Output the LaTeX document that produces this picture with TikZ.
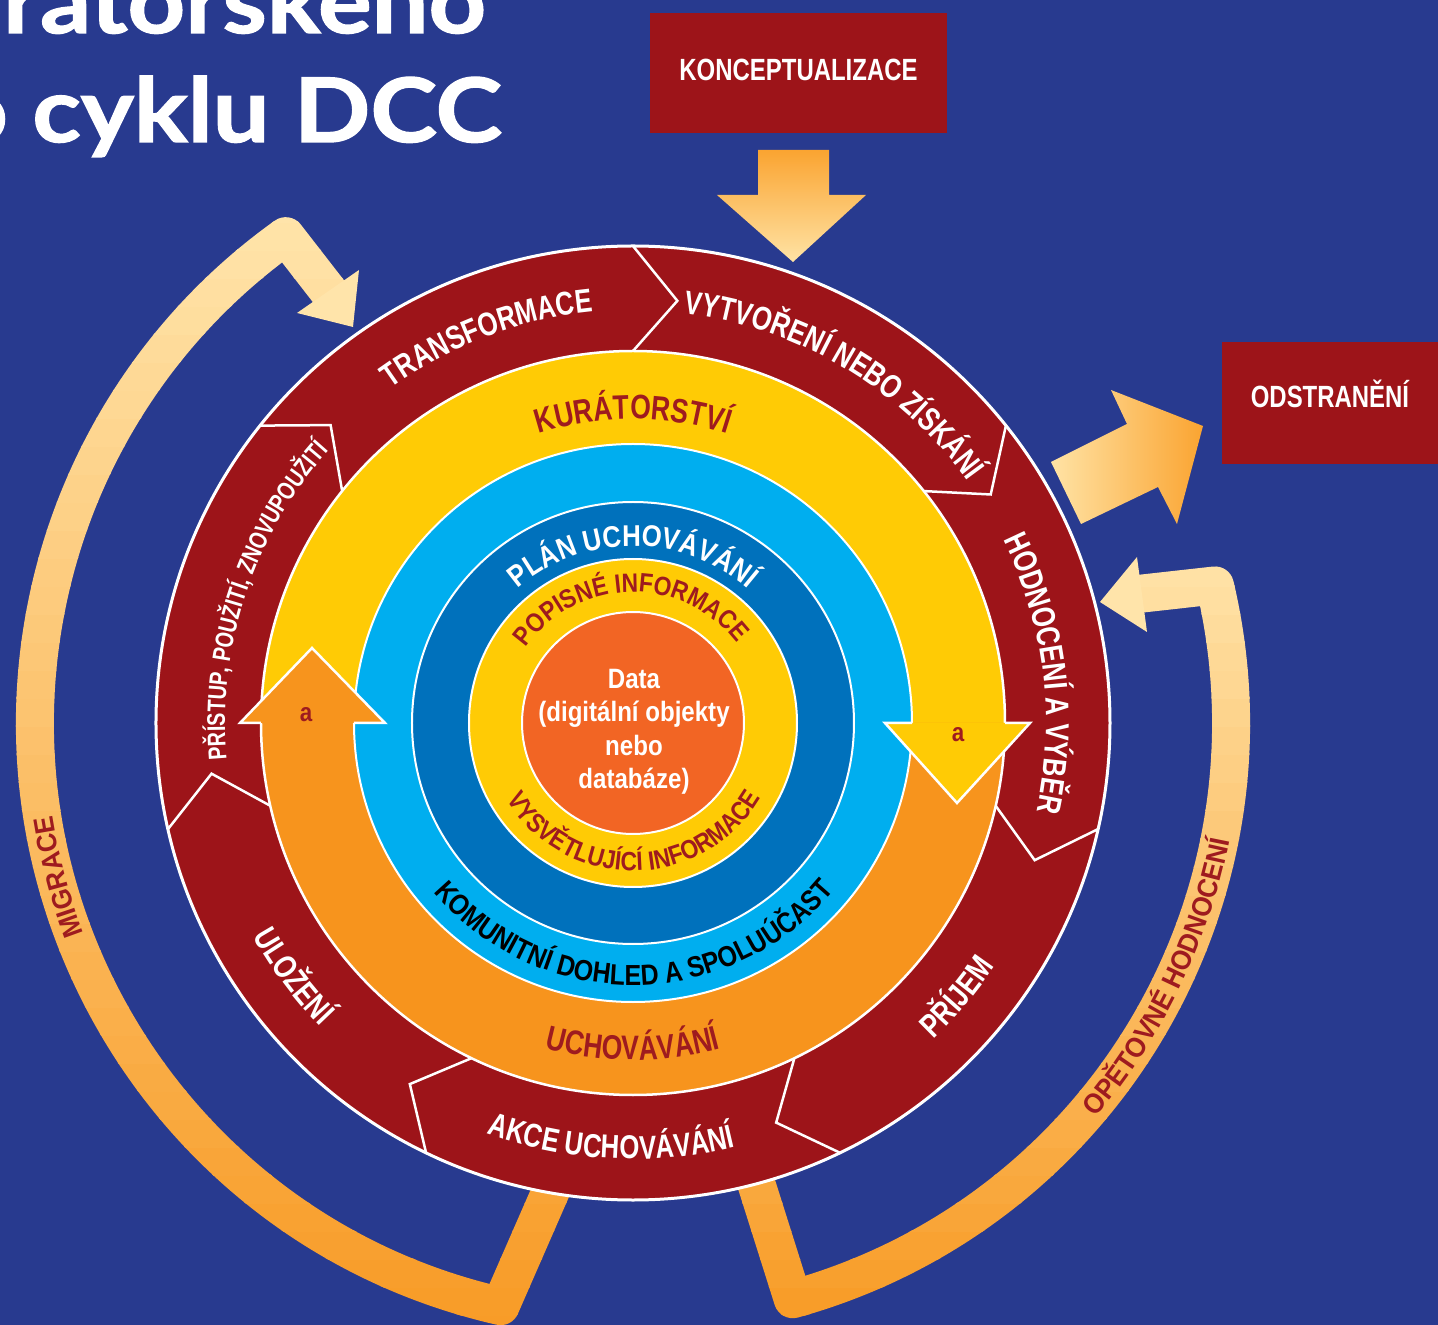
\documentclass[tikz,border=0pt]{standalone}
\usepackage{fontspec}
\usepackage{tikz}
\usetikzlibrary{decorations.text}
\newfontfamily\condfont{Liberation Sans}[FakeStretch=0.78]
\newfontfamily\semifont{Liberation Sans}[FakeStretch=0.86]
\newfontfamily\loopfont{Liberation Sans}[FakeStretch=0.93]
\newfontfamily\titlefont{Lato}[FakeStretch=1.13, FakeBold=1.5]
\definecolor{bgblue}{HTML}{283A8F}
\definecolor{ringred}{HTML}{9D1419}
\definecolor{curyellow}{HTML}{FFCB05}
\definecolor{presorange}{HTML}{F7941D}
\definecolor{lightblue}{HTML}{00AEEF}
\definecolor{darkblue}{HTML}{0071BC}
\definecolor{coreorange}{HTML}{F26524}
\definecolor{lblred}{HTML}{9E1B1F}
\definecolor{looplight}{HTML}{FFE4AA}
\definecolor{loopdark}{HTML}{F89C28}
\definecolor{arrowlight}{HTML}{FFE3A5}
\definecolor{arrowdark}{HTML}{FAA431}
\newcommand{\titlefnt}{\titlefont\bfseries\fontsize{89pt}{89pt}\selectfont}
\newcommand{\boxfnt}{\condfont\bfseries\fontsize{30.7pt}{30.7pt}\selectfont}
\newcommand{\ringfnt}{\condfont\bfseries\fontsize{33pt}{33pt}\selectfont}
\newcommand{\accfnt}{\condfont\bfseries\fontsize{25.5pt}{25.5pt}\selectfont}
\newcommand{\bandfnt}{\condfont\bfseries\fontsize{34pt}{34pt}\selectfont}
\newcommand{\commfnt}{\semifont\bfseries\fontsize{29pt}{29pt}\selectfont}
\newcommand{\planfnt}{\semifont\bfseries\fontsize{30pt}{30pt}\selectfont}
\newcommand{\infofnt}{\semifont\bfseries\fontsize{26.5pt}{26.5pt}\selectfont}
\newcommand{\loopfnt}{\loopfont\bfseries\fontsize{28pt}{28pt}\selectfont}
\newcommand{\datafnt}{\semifont\bfseries\fontsize{28pt}{33.5pt}\selectfont}
\newcommand{\afnt}{\semifont\bfseries\fontsize{26pt}{26pt}\selectfont}
\begin{document}
\begin{tikzpicture}[x=1pt, y=1pt,
  box/.style={fill=ringred, text=white, font=\boxfnt, inner sep=0pt, text height=22pt},
  ringedge/.style={white, line width=2.5pt, line join=miter},
  chev/.style={white, line width=2.5pt, line join=miter},
  loopband/.style={line width=38pt, line join=round},
  arclbl/.style 2 args={decorate, decoration={text along path, text align=center, text color=#1, text={#2}}}]

% canvas
\useasboundingbox (-633,-602) rectangle (805,723);
\clip (-633,-602) rectangle (805,723);
\fill[bgblue] (-633,-602) rectangle (805,723);

% title (cut off by the page edge)
\node[font=\titlefnt, text=white, anchor=base west, inner sep=0pt] (title1) at (-630,690) {ratorského};
\node[font=\titlefnt, text=white, anchor=base west, inner sep=0pt] (title2) at (-683,581) {o cyklu DCC};

% outer boxes and arrows
\node[box, minimum width=297, minimum height=120, text depth=6pt] (konc) at (165.5,650) {KONCEPTUALIZACE};
\node[box, minimum width=216, minimum height=122, text depth=12pt] (odst) at (697,320) {ODSTRANĚNÍ};
\shade[top color=arrowdark, bottom color=arrowlight] (125,573) -- (196,573) -- (196,528) -- (233,528) -- (160,461) -- (84,528) -- (125,528) -- cycle;
\shade[left color=arrowlight, right color=arrowdark] (418,261) -- (494,299) -- (478,333) -- (570,297) -- (544,199) -- (525,236) -- (448,199) -- cycle;

% migrace loop
\foreach \i in {0,...,43} {
  \pgfmathsetmacro\ya{-620+\i*28}
  \pgfmathsetmacro\yb{\ya+29}
  \pgfmathtruncatemacro\pc{max(0,min(100,(\ya+604)/10.9))}
  \begin{scope}
    \clip (-640,\ya) rectangle (0,\yb);
    \draw[loopband, draw=looplight!\pc!loopdark] (-73,-447) -- (257.2:598) arc[start angle=257.2, end angle=125.5, radius=598] -- (-302,428.5);
  \end{scope}
}
\fill[looplight] (-274,453) -- (-280,396) -- (-336,410) -- cycle;

% opetovne hodnoceni loop
\foreach \i in {0,...,29} {
  \pgfmathsetmacro\ya{-620+\i*28}
  \pgfmathsetmacro\yb{\ya+29}
  \pgfmathtruncatemacro\pc{max(0,min(100,(\ya+604)/7.65))}
  \begin{scope}
    \clip (0,\ya) rectangle (700,\yb);
    \draw[loopband, draw=looplight!\pc!loopdark] (119,-447) -- (-74.5:598) arc[start angle=-74.5, end angle=13.3, radius=598] -- (505,129);
  \end{scope}
}
\fill[looplight] (504,166) -- (467,121) -- (514,91) -- cycle;

% rings
\fill[ringred] (0,0) circle (477);
\fill[curyellow] (372,0) arc[start angle=0, end angle=180, radius=372] -- cycle;
\fill[presorange] (-372,0) arc[start angle=180, end angle=360, radius=372] -- cycle;
\draw[ringedge, line width=3pt] (0,0) circle (477);
\draw[ringedge] (0,0) circle (372);
\foreach \k in {0,...,6} {
  \pgfmathsetmacro\t{90-\k*360/7}
  \draw[chev] (\t:477) -- (\t-6:424.5) -- (\t:372);
}
\filldraw[fill=lightblue, draw=white, line width=2pt] (0,0) circle (279);
\filldraw[fill=darkblue, draw=white, line width=2pt] (0,0) circle (221);
\filldraw[fill=curyellow, draw=white, line width=2pt] (0,0) circle (164);
\filldraw[fill=coreorange, draw=white, line width=2pt] (0,0) circle (111);

% arrow heads of the two half rings
\fill[presorange] (-393,0) -- (-321,75) -- (-248,0) -- cycle;
\draw[ringedge] (-372,0) -- (-393,0) -- (-321,75) -- (-248,0) -- (-279,0);
\fill[curyellow] (252,0) -- (324,-80) -- (397,0) -- cycle;
\draw[ringedge] (279,0) -- (252,0) -- (324,-80) -- (397,0) -- (372,0);
\node[font=\afnt, text=lblred] (aleft) at (-327,8) {a};
\node[font=\afnt, text=lblred] (aright) at (325,-12) {a};

\node[font=\datafnt, text=white, align=center] (data) at (1,-9) {Data\\(digitální objekty\\nebo\\databáze)};

% ring labels
\path[arclbl={white}{|\ringfnt|TRANSFORMACE}] (150.7:413) arc[start angle=150.7, end angle=70.7, radius=413];
\path[arclbl={white}{|\ringfnt|VYTVOŘENÍ NEBO ZÍSKÁNÍ}] (109.4:413) arc[start angle=109.4, end angle=9.4, radius=413];
\path[arclbl={white}{|\ringfnt|HODNOCENÍ A VÝBĚR}] (57:413) arc[start angle=57, end angle=-43, radius=413];
\path[arclbl={white}{|\ringfnt|PŘÍJEM}] (-80:436) arc[start angle=-80, end angle=-0.4, radius=436];
\path[arclbl={white}{|\ringfnt|AKCE UCHOVÁVÁNÍ}] (-143:436) arc[start angle=-143, end angle=-43, radius=436];
\path[arclbl={white}{|\ringfnt|ULOŽENÍ}] (-183.3:436) arc[start angle=-183.3, end angle=-103.3, radius=436];
\path[arclbl={white}{|\accfnt|PŘÍSTUP, POUŽITÍ, ZNOVUPOUŽITÍ}] (211.6:408) arc[start angle=211.6, end angle=111.6, radius=408];
\path[arclbl={lblred}{|\bandfnt|KURÁTORSTVÍ}] (140:304) arc[start angle=140, end angle=40, radius=304];
\path[arclbl={lblred}{|\bandfnt|UCHOVÁVÁNÍ}] (-140:337) arc[start angle=-140, end angle=-40, radius=337];
\path[arclbl={black}{|\commfnt|KOMUNITNÍ DOHLED A SPOLUÚČAST}] (-160:262) arc[start angle=-160, end angle=-19.4, radius=262];
\path[arclbl={white}{|\planfnt|PLÁN UCHOVÁVÁNÍ}] (150:177) arc[start angle=150, end angle=30, radius=177];
\path[arclbl={lblred}{|\infofnt|POPISNÉ INFORMACE}] (171:131) arc[start angle=171, end angle=11, radius=131];
\path[arclbl={lblred}{|\infofnt|VYSVĚTLUJÍCÍ INFORMACE}] (-169.5:148) arc[start angle=-169.5, end angle=-9.5, radius=148];
\path[arclbl={lblred}{|\loopfnt|MIGRACE}] (215:588) arc[start angle=215, end angle=175, radius=588];
\path[arclbl={lblred}{|\loopfnt|OPĚTOVNÉ HODNOCENÍ}] (-60.8:608) arc[start angle=-60.8, end angle=9.2, radius=608];
\end{tikzpicture}
\end{document}
